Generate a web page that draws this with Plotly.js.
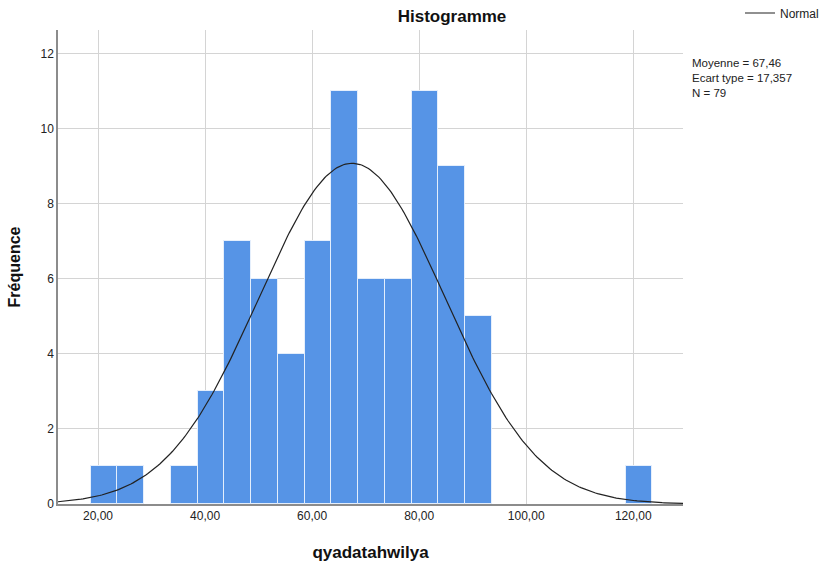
<!DOCTYPE html>
<html>
<head>
<meta charset="utf-8">
<script src="https://cdn.plot.ly/plotly-3.0.1.min.js"></script>
<style>html,body{margin:0;padding:0;background:#fff;}#chart{width:822px;height:569px;}</style>
</head>
<body>
<div id="chart"></div>
<script>
// Histogram bins (centres) and frequencies
const binCenters = [21.1, 26.1, 36.1, 41.1, 46.1, 51.1, 56.1, 61.1, 66.1, 71.1, 76.1, 81.1, 86.1, 91.1, 121.1];
const frequencies = [1, 1, 1, 3, 7, 6, 4, 7, 11, 6, 6, 11, 9, 5, 1];
const binWidth = 5;

// Stats shown in the chart
const meanValue = 67.46;
const stdDev = 17.357;
const nCount = 79;
const statsLines = ["Moyenne = 67,46", "Ecart type = 17,357", "N = 79"];

// Tick labels
const xTickVals = [20, 40, 60, 80, 100, 120];
const xTickText = ["20,00", "40,00", "60,00", "80,00", "100,00", "120,00"];
const yTickVals = [0, 2, 4, 6, 8, 10, 12];

const xMin = 12.52, xMax = 129.3;

// Fitted normal curve defined by the displayed mean, sd, N and bin width
const curveX = [], curveY = [];
for (let i = 0; i <= 300; i++) {
  const x = xMin + (xMax - xMin) * i / 300;
  const z = (x - meanValue) / stdDev;
  curveX.push(x);
  curveY.push(nCount * binWidth * Math.exp(-0.5 * z * z) / (stdDev * Math.sqrt(2 * Math.PI)));
}

const FONT = '"Liberation Sans", Arial, sans-serif';

const traces = [
  {
    type: 'bar',
    x: binCenters,
    y: frequencies,
    width: binWidth,
    marker: {color: '#5694E6', line: {color: 'rgba(235,243,253,0.9)', width: 1}},
    showlegend: false,
    hoverinfo: 'x+y'
  },
  {
    type: 'scatter',
    mode: 'lines',
    x: curveX,
    y: curveY,
    name: 'Normal',
    line: {color: '#222222', width: 1.2},
    showlegend: true
  }
];

const layout = {
  width: 822,
  height: 569,
  paper_bgcolor: '#ffffff',
  plot_bgcolor: '#ffffff',
  font: {family: FONT, size: 12, color: '#222'},
  margin: {l: 58, r: 139, t: 30, b: 65, autoexpand: false},
  title: {
    text: '<b>Histogramme</b>',
    font: {family: FONT, size: 17, color: '#111'},
    x: 452 / 822, xref: 'container', xanchor: 'center',
    y: 1 - 16 / 569, yref: 'container', yanchor: 'middle'
  },
  bargap: 0,
  xaxis: {
    range: [xMin, xMax],
    tickvals: xTickVals,
    ticktext: xTickText,
    showgrid: true,
    gridcolor: '#d4d4d4',
    gridwidth: 1.3,
    zeroline: false,
    showline: true,
    linecolor: '#8c8c8c',
    linewidth: 1.5,
    ticks: '',
    tickfont: {family: FONT, size: 12, color: '#222'},
    automargin: false,
    title: {text: '<b>qyadatahwilya</b>', font: {family: FONT, size: 17, color: '#111'}, standoff: 24}
  },
  yaxis: {
    range: [0, 12.63],
    tickvals: yTickVals,
    showgrid: true,
    gridcolor: '#d4d4d4',
    gridwidth: 1.3,
    zeroline: false,
    showline: true,
    linecolor: '#8c8c8c',
    linewidth: 1.5,
    ticks: '',
    tickfont: {family: FONT, size: 12, color: '#222'},
    automargin: false,
    title: {text: '<b>Fréquence</b>', font: {family: FONT, size: 16, color: '#111'}, standoff: 16}
  },
  legend: {
    x: (824 - 58) / 625, xanchor: 'right',
    y: (504 - 13) / 474, yanchor: 'middle',
    font: {family: FONT, size: 12, color: '#222'},
    bgcolor: 'rgba(0,0,0,0)',
    itemwidth: 30
  },
  annotations: [
    {xref: 'paper', yref: 'paper', x: (690 - 58) / 625, xanchor: 'left', y: (504 - 55) / 474, yanchor: 'top',
     text: statsLines.join('<br>'), align: 'left', showarrow: false,
     font: {family: FONT, size: 11.5, color: '#222'}}
  ]
};

Plotly.newPlot('chart', traces, layout, {displayModeBar: false, responsive: false});
</script>
</body>
</html>
